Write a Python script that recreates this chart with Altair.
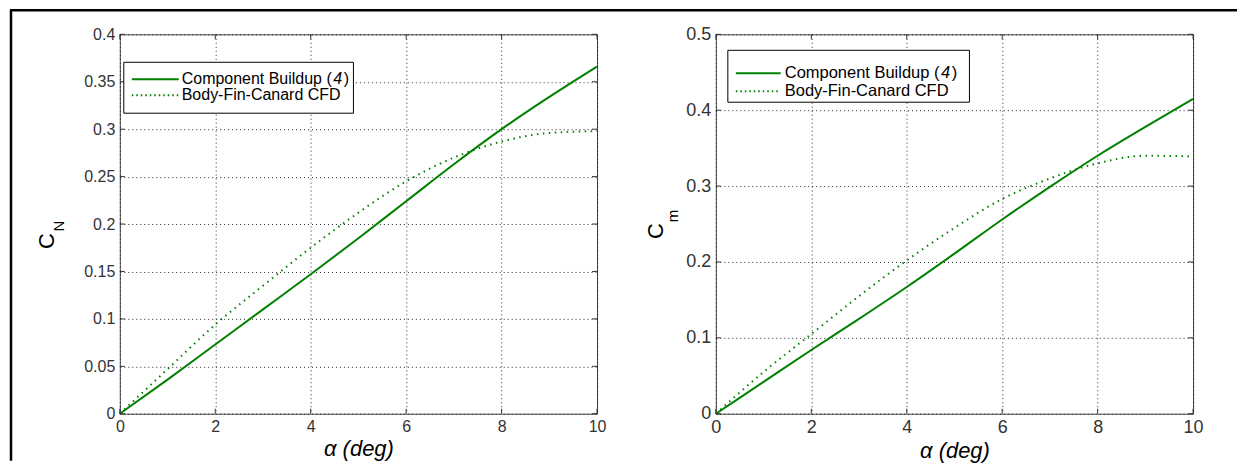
import altair as alt
import pandas as pd

# ---------------- data ----------------
alpha = [0, 1, 2, 3, 4, 5, 6, 7, 8, 9, 10]
cn_buildup = [0, 0.036, 0.073, 0.110, 0.147, 0.185, 0.224, 0.263, 0.300, 0.334, 0.366]
cn_cfd = [0, 0.047, 0.094, 0.135, 0.175, 0.212, 0.245, 0.270, 0.287, 0.296, 0.298]
cm_buildup = [0, 0.042, 0.084, 0.125, 0.167, 0.211, 0.256, 0.299, 0.340, 0.378, 0.415]
cm_cfd = [0, 0.055, 0.105, 0.155, 0.202, 0.245, 0.283, 0.310, 0.330, 0.340, 0.339]
series_names = ["Component Buildup (4)", "Body-Fin-Canard CFD"]
x_ticks = [0, 2, 4, 6, 8, 10]
cn_ticks = [0, 0.05, 0.1, 0.15, 0.2, 0.25, 0.3, 0.35, 0.4]
cm_ticks = [0, 0.1, 0.2, 0.3, 0.4, 0.5]

# ---------------- style ----------------
GREEN = "#008000"
FONT = "Liberation Sans"
W, H = 478, 380
TICK = 5


def one_row(**kw):
    return pd.DataFrame({k: [v] for k, v in kw.items()})


def panel(buildup, cfd, yticks, ymax, yfmt, main, sub, c_xy, s_xy, leg, lab_fs, frame=False):
    xs = alt.Scale(domain=[0, 10], nice=False, zero=False)
    ys = alt.Scale(domain=[0, ymax], nice=False, zero=False)
    xaxis = alt.Axis(values=x_ticks, title="α (deg)", grid=True, ticks=False, domain=False,
                     gridDash=[1, 3], gridColor="#111", gridOpacity=0.9, gridWidth=1,
                     labelFlush=False, labelOverlap=False,
                     labelFont=FONT, labelFontSize=lab_fs, labelColor="#333", labelPadding=5,
                     titleFont=FONT, titleFontSize=22, titleFontStyle="italic",
                     titleFontWeight="normal", titleColor="#000", titlePadding=4)
    yaxis = alt.Axis(values=yticks, format=yfmt, title=None, grid=True, ticks=False, domain=False,
                     gridDash=[1, 3], gridColor="#111", gridOpacity=0.9, gridWidth=1,
                     labelFlush=False, labelOverlap=False,
                     labelFont=FONT, labelFontSize=lab_fs, labelColor="#333", labelPadding=5)

    df_b = pd.DataFrame({"alpha": alpha, "value": buildup})
    df_c = pd.DataFrame({"alpha": alpha, "value": cfd})

    solid = alt.Chart(df_b).mark_line(color=GREEN, strokeWidth=2, interpolate="monotone").encode(
        x=alt.X("alpha:Q", scale=xs, axis=xaxis),
        y=alt.Y("value:Q", scale=ys, axis=yaxis),
    )
    dotted = alt.Chart(df_c).mark_line(color=GREEN, strokeWidth=2, strokeDash=[1.5, 4.5],
                                       interpolate="monotone").encode(
        x=alt.X("alpha:Q", scale=xs),
        y=alt.Y("value:Q", scale=ys),
    )

    # inward ticks on all four sides
    dfx = pd.DataFrame({"t": x_ticks})
    dfy = pd.DataFrame({"t": yticks})
    tk = dict(color="#333", strokeWidth=1)
    ticks = [
        alt.Chart(dfx).mark_rule(**tk).encode(x=alt.X("t:Q", scale=xs), y=alt.value(0), y2=alt.value(TICK)),
        alt.Chart(dfx).mark_rule(**tk).encode(x=alt.X("t:Q", scale=xs), y=alt.value(H), y2=alt.value(H - TICK)),
        alt.Chart(dfy).mark_rule(**tk).encode(y=alt.Y("t:Q", scale=ys), x=alt.value(0), x2=alt.value(TICK)),
        alt.Chart(dfy).mark_rule(**tk).encode(y=alt.Y("t:Q", scale=ys), x=alt.value(W), x2=alt.value(W - TICK)),
    ]

    # y title: C with subscript
    ytitle = [
        alt.Chart(one_row(t=main)).mark_text(angle=270, font=FONT, fontSize=22, color="#000",
                                             align="center", baseline="middle").encode(
            text="t:N", x=alt.value(c_xy[0]), y=alt.value(c_xy[1])),
        alt.Chart(one_row(t=sub)).mark_text(angle=270, font=FONT, fontSize=15, color="#000",
                                            align="center", baseline="middle").encode(
            text="t:N", x=alt.value(s_xy[0]), y=alt.value(s_xy[1])),
    ]

    # legend box; first label is split so that the reference "4" is italic
    lx, ly, lw, lh, fs, r1, r2, sx0, sx1, tx = leg
    name_a = series_names[0][:-2]          # "Component Buildup ("
    name_b = series_names[0][-2:-1]        # "4"
    name_c = series_names[0][-1:]          # ")"
    w_a = fs * 9.393 + 1.5                # Arial/Liberation advance widths (em)
    w_b = fs * 0.556 + 1.5
    txt = dict(font=FONT, fontSize=fs, color="#000", align="left", baseline="middle")
    legend = [
        alt.Chart(one_row(a=0)).mark_rect(fill="white", stroke="#000", strokeWidth=1).encode(
            x=alt.value(lx), x2=alt.value(lx + lw), y=alt.value(ly), y2=alt.value(ly + lh)),
        alt.Chart(one_row(a=0)).mark_rule(color=GREEN, strokeWidth=2).encode(
            x=alt.value(sx0), x2=alt.value(sx1), y=alt.value(r1)),
        alt.Chart(one_row(a=0)).mark_rule(color=GREEN, strokeWidth=2, strokeDash=[1.5, 3]).encode(
            x=alt.value(sx0), x2=alt.value(sx1), y=alt.value(r2)),
        alt.Chart(one_row(t=name_a)).mark_text(**txt).encode(
            text="t:N", x=alt.value(tx), y=alt.value(r1)),
        alt.Chart(one_row(t=name_b)).mark_text(fontStyle="italic", **txt).encode(
            text="t:N", x=alt.value(tx + w_a), y=alt.value(r1)),
        alt.Chart(one_row(t=name_c)).mark_text(**txt).encode(
            text="t:N", x=alt.value(tx + w_a + w_b), y=alt.value(r1)),
        alt.Chart(one_row(t=series_names[1])).mark_text(**txt).encode(
            text="t:N", x=alt.value(tx), y=alt.value(r2)),
    ]

    layers = [solid, dotted] + ticks + legend + ytitle
    if frame:
        layers += [
            alt.Chart(one_row(a=0)).mark_rule(color="#000", strokeWidth=2.5).encode(
                x=alt.value(-109), y=alt.value(-24), y2=alt.value(427)),
            alt.Chart(one_row(a=0)).mark_rule(color="#000", strokeWidth=2.5).encode(
                x=alt.value(-110), x2=alt.value(1119), y=alt.value(-24)),
        ]
    return alt.layer(*layers).properties(width=W, height=H)


left = panel(cn_buildup, cn_cfd, cn_ticks, 0.4, ".2~f", "C", "N",
             (-73, 207), (-61, 192),
             (4, 28, 230, 51, 16, 45, 61, 12, 59, 62), 16, frame=True)
right = panel(cm_buildup, cm_cfd, cm_ticks, 0.5, ".1~f", "C", "m",
              (-60, 197), (-43, 182),
              (12, 16, 242, 52, 16.5, 39, 57, 20, 65, 69), 18)

chart = alt.hconcat(left, right, spacing=119, bounds="flush").configure(
    padding=0, background="white"
).configure_view(stroke="#444", strokeWidth=1)

chart.save("out.html", embed_options={"renderer": "svg", "actions": False})
